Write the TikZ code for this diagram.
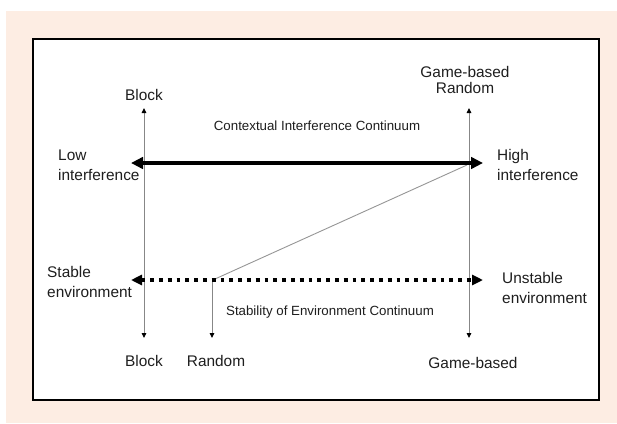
\documentclass[tikz,border=0pt]{standalone}
\usepackage{fontspec}
\setmainfont{Liberation Sans}
\usetikzlibrary{arrows.meta}
\definecolor{peach}{RGB}{253,237,227}
\definecolor{axisgray}{RGB}{135,135,135}
\definecolor{diaggray}{RGB}{150,150,150}
\definecolor{txt}{RGB}{30,30,30}
\begin{document}
\begin{tikzpicture}[x=1pt,y=-1pt,
  lbl/.style={inner sep=0pt, text=txt, font=\fontsize{15.4}{20}\selectfont, align=left},
  cont/.style={inner sep=0pt, text=txt, font=\fontsize{13.3}{16}\selectfont},
  axisarrow/.style={draw=axisgray, line width=0.9pt},
  smalltip/.style={Triangle[length=5pt,width=4.5pt,color=black]},
  bigtip/.style={Triangle[length=12pt,width=11.5pt]},
  thickarrow/.style={draw=black, line width=3.5pt, {Triangle[length=12pt,width=11.5pt]}-{Triangle[length=12pt,width=11.5pt]}},
  dotarrow/.style={draw=black, line width=3.6pt, dash pattern=on 3.8pt off 5pt, {Triangle[length=11pt,width=10pt]}-{Triangle[length=11pt,width=10pt]}},
  diagline/.style={draw=diaggray, line width=0.9pt}
]
\useasboundingbox (0,0) rectangle (617,423);
\fill[peach] (6,11) rectangle (617,423);
\draw[fill=white, line width=2pt] (33,39) rectangle (599,400);

% coordinates
\coordinate (lt) at (144,108);
\coordinate (lb) at (144,338);
\coordinate (rt) at (469,108);
\coordinate (rb) at (469,338);
\coordinate (rnd) at (212,280);
\coordinate (rndb) at (212,338);
\coordinate (tl) at (131,163);
\coordinate (tr) at (483,163);
\coordinate (dl) at (131,280);
\coordinate (dr) at (483,280);
\coordinate (dg1) at (215,279);
\coordinate (dg2) at (467,165);

% vertical axes
\draw[axisarrow, {Triangle[length=5pt,width=4.5pt,color=black]}-{Triangle[length=5pt,width=4.5pt,color=black]}] (lt) -- (lb);
\draw[axisarrow, {Triangle[length=5pt,width=4.5pt,color=black]}-{Triangle[length=5pt,width=4.5pt,color=black]}] (rt) -- (rb);
\draw[axisarrow, -{Triangle[length=5pt,width=4.5pt,color=black]}] (rnd) -- (rndb);

% diagonal
\draw[diagline] (dg1) -- (dg2);

% continua
\draw[thickarrow] (tl) -- (tr);
\draw[dotarrow] (dl) -- (dr);

% labels
\node[lbl, anchor=base] (blockt) at (144,100) {Block};
\node[lbl, align=center, font=\fontsize{15.4}{16.5}\selectfont] (gbr) at (465,80) {Game-based\\Random};
\node[cont, anchor=base] (cic) at (317,130) {Contextual Interference Continuum};
\node[lbl, anchor=west] (low) at (58,165) {Low\\interference};
\node[lbl, anchor=west] (high) at (497,165) {High\\interference};
\node[lbl, anchor=west] (stable) at (47,282) {Stable\\environment};
\node[lbl, anchor=west] (unst) at (502,288) {Unstable\\environment};
\node[cont, anchor=base] (sec) at (330,315) {Stability of Environment Continuum};
\node[lbl, anchor=base] (blockb) at (144,366) {Block};
\node[lbl, anchor=base] (randb) at (216,366) {Random};
\node[lbl, anchor=base] (gbb) at (473,368) {Game-based};
\end{tikzpicture}
\end{document}
